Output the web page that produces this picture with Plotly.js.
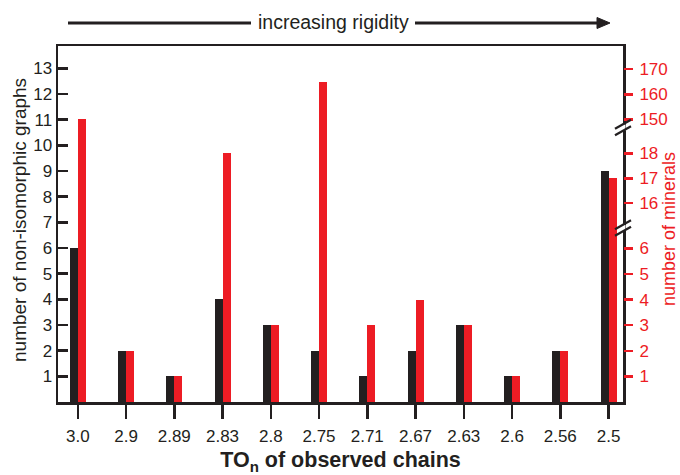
<!DOCTYPE html>
<html>
<head>
<meta charset="utf-8">
<script src="https://cdn.plot.ly/plotly-3.0.1.min.js"></script>
<style>
  html, body { margin: 0; padding: 0; background: #ffffff; }
  #chart { width: 680px; height: 475px; }
</style>
</head>
<body>
<div id="chart"></div>
<script>
// TO_n values of the observed chains (categorical x axis)
const categories = ['3.0', '2.9', '2.89', '2.83', '2.8', '2.75', '2.71', '2.67', '2.63', '2.6', '2.56', '2.5'];
// number of non-isomorphic graphs (left axis, black)
const graphCounts = [6, 2, 1, 4, 3, 2, 1, 2, 3, 1, 2, 9];
// number of minerals (right broken axis, red)
const mineralCounts = [150, 2, 1, 18, 3, 165, 3, 4, 3, 1, 2, 17];

// tick labels
const leftTicks = [1, 2, 3, 4, 5, 6, 7, 8, 9, 10, 11, 12, 13];
const rightTicksLow = [1, 2, 3, 4, 5, 6];
const rightTicksMid = [16, 17, 18];
const rightTicksHigh = [150, 160, 170];

const INK = '#231f20';
const RED = '#ed1c24';
const FONT = '"Liberation Sans", Arial, Helvetica, sans-serif';

// plot-area geometry (pixels)
const M = { l: 58, r: 57, t: 46, b: 73 };
const W = 680, H = 475;
const PW = W - M.l - M.r, PH = H - M.t - M.b;
const px2x = px => (px - M.l) / PW;
const px2y = py => (H - M.b - py) / PH;

// broken right axis: three stacked segments
const d1 = px2y(228);
const d2 = px2y(127.5);
const midRange = [15, 19.04];
// the middle segment is stretched by a hair on both sides (same scale)
// so the clipped bar pieces meet without a seam
const eps = 1.5 / PH;
const midPerPaper = (midRange[1] - midRange[0]) / (d2 - d1);

const barW = 0.166;

const traces = [
  {
    type: 'bar', x: categories, y: graphCounts, xaxis: 'x', yaxis: 'y',
    offset: -barW, width: barW,
    marker: { color: INK, line: { width: 0 } },
    hoverinfo: 'x+y', showlegend: false
  }
];
['y2', 'y3', 'y4'].forEach(ax => {
  traces.push({
    type: 'bar', x: categories, y: mineralCounts, xaxis: 'x', yaxis: ax,
    offset: 0, width: barW,
    marker: { color: RED, line: { width: 0 } },
    hoverinfo: 'x+y', showlegend: false
  });
});

const redAxis = (domain, range, vals) => ({
  domain: domain, range: range, anchor: 'x', side: 'right',
  tickvals: vals, ticktext: vals.map(String),
  ticks: 'outside', ticklen: 9, tickwidth: 2.5, tickcolor: RED,
  ticklabelstandoff: 3,
  tickfont: { family: FONT, size: 17, color: RED },
  showline: false, zeroline: false, showgrid: false, fixedrange: true
});

// decorations: slanted double-slash marks at the axis breaks
function breakMarks(yc) {
  const s = [];
  const xr = PW + M.l;
  s.push({ type: 'line', xref: 'paper', yref: 'paper',
    x0: px2x(xr), x1: px2x(xr), y0: px2y(yc - 3), y1: px2y(yc + 3),
    line: { color: '#ffffff', width: 5 } });
  [-3.2, 3.2].forEach(dy => {
    s.push({ type: 'line', xref: 'paper', yref: 'paper',
      x0: px2x(xr - 8), y0: px2y(yc + dy + 4.5),
      x1: px2x(xr + 8), y1: px2y(yc + dy - 4.5),
      line: { color: INK, width: 2.2 } });
  });
  return s;
}

// "increasing rigidity" arrow: two line pieces and a filled head
const arrowY = 23;
const shapes = [
  { type: 'line', xref: 'paper', yref: 'paper',
    x0: px2x(68), x1: px2x(251), y0: px2y(arrowY), y1: px2y(arrowY),
    line: { color: INK, width: 3 } },
  { type: 'line', xref: 'paper', yref: 'paper',
    x0: px2x(415), x1: px2x(600), y0: px2y(arrowY), y1: px2y(arrowY),
    line: { color: INK, width: 3 } },
  { type: 'path', xref: 'paper', yref: 'paper',
    path: 'M ' + px2x(597) + ',' + px2y(arrowY - 5.5) +
          ' L ' + px2x(610) + ',' + px2y(arrowY) +
          ' L ' + px2x(597) + ',' + px2y(arrowY + 5.5) + ' Z',
    fillcolor: INK, line: { color: INK, width: 1 } }
].concat(breakMarks(H - M.b - d2 * PH), breakMarks(H - M.b - d1 * PH));

const annotations = [
  { xref: 'paper', yref: 'paper', x: px2x(333), y: px2y(22), text: 'increasing rigidity',
    showarrow: false, font: { family: FONT, size: 19.5, color: INK }, xanchor: 'center', yanchor: 'middle' },
  { xref: 'paper', yref: 'paper', x: px2x(19), y: px2y(220), text: 'number of non-isomorphic graphs',
    textangle: -90, showarrow: false, xanchor: 'center', yanchor: 'middle',
    font: { family: FONT, size: 19, color: INK } },
  { xref: 'paper', yref: 'paper', x: px2x(669), y: px2y(229), text: 'number of minerals',
    textangle: -90, showarrow: false, xanchor: 'center', yanchor: 'middle',
    font: { family: FONT, size: 18, color: RED } }
];

const layout = {
  width: W, height: H,
  margin: M,
  paper_bgcolor: '#ffffff', plot_bgcolor: 'rgba(0,0,0,0)',
  barmode: 'overlay', bargap: 0,
  showlegend: false,
  font: { family: FONT, color: INK },
  xaxis: {
    type: 'category', range: [-0.41, 11.3], anchor: 'y',
    showline: true, linecolor: INK, linewidth: 2.5, mirror: true,
    ticks: 'outside', ticklen: 14, tickwidth: 2.5, tickcolor: INK,
    ticklabelstandoff: 3,
    tickfont: { family: FONT, size: 17, color: INK },
    showgrid: false, zeroline: false, fixedrange: true,
    title: { text: '<b>TO<sub>n</sub> of observed chains</b>', standoff: 12,
      font: { family: FONT, size: 21.5, color: INK } }
  },
  yaxis: {
    domain: [0, 1], range: [0, 13.87], anchor: 'x',
    tickvals: leftTicks, ticktext: leftTicks.map(String),
    showline: true, linecolor: INK, linewidth: 2.5, mirror: true,
    ticks: 'inside', ticklen: 10, tickwidth: 2.5, tickcolor: INK,
    tickfont: { family: FONT, size: 17, color: INK },
    showgrid: false, zeroline: false, fixedrange: true
  },
  yaxis2: redAxis([0, d1], [0, 6.8], rightTicksLow),
  yaxis3: redAxis([d1 - eps, d2 + eps],
    [midRange[0] - eps * midPerPaper, midRange[1] + eps * midPerPaper], rightTicksMid),
  yaxis4: redAxis([d2, 1], [146.8, 179.2], rightTicksHigh),
  shapes: shapes,
  annotations: annotations
};

Plotly.newPlot('chart', traces, layout, { displayModeBar: false, staticPlot: true });
</script>
</body>
</html>
